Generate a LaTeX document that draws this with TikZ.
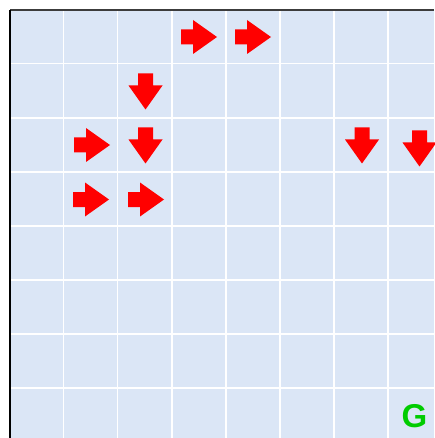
\documentclass[tikz,border=0pt]{standalone}
\usepackage{fontspec}
\setmainfont{Liberation Sans}
\definecolor{cellbg}{RGB}{219,230,246}
\definecolor{goalgreen}{RGB}{0,204,0}
\definecolor{arrowred}{RGB}{255,0,0}
\definecolor{topspine}{RGB}{60,60,60}
\tikzset{
  gridline/.style={draw=white, line width=1.4pt},
  rarrow/.pic={\fill[arrowred] (-18,-7.5) -- (-6,-7.5) -- (-6,-17) -- (18,0) -- (-6,17) -- (-6,7.5) -- (-18,7.5) -- cycle;},
  darrow/.pic={\fill[arrowred] (-7.5,-18) -- (7.5,-18) -- (7.5,-6) -- (17,-6) -- (0,18) -- (-17,-6) -- (-7.5,-6) -- cycle;},
  goal/.style={text=goalgreen, font=\fontsize{33}{33}\selectfont\bfseries, inner sep=0pt}
}
\begin{document}
\begin{tikzpicture}[x=1pt,y=-1pt]
\useasboundingbox (0,0) rectangle (434,438);
\fill[white] (0,0) rectangle (434,438);
\fill[cellbg] (10,10) rectangle (434,438);
\foreach \v in {63.5,117.5,172,226,280,334,388}{
  \draw[gridline] (\v,10) -- (\v,438);
}
\foreach \h in {63.5,118,172,226,280,334,388}{
  \draw[gridline] (10,\h) -- (434,\h);
}
\draw[topspine, line width=1.6pt] (10,10) -- (434,10);
\draw[black, line width=1.6pt] (10,10) -- (10,438);
\pic at (199,37) {rarrow};
\pic at (253,37) {rarrow};
\pic at (145.5,91.5) {darrow};
\pic at (92,145) {rarrow};
\pic at (145.5,145.5) {darrow};
\pic at (362,145.5) {darrow};
\pic at (419.5,148.5) {darrow};
\pic at (91,199.5) {rarrow};
\pic at (146,199.5) {rarrow};
\node[goal] (G) at (414.5,416) {G};
\end{tikzpicture}
\end{document}
